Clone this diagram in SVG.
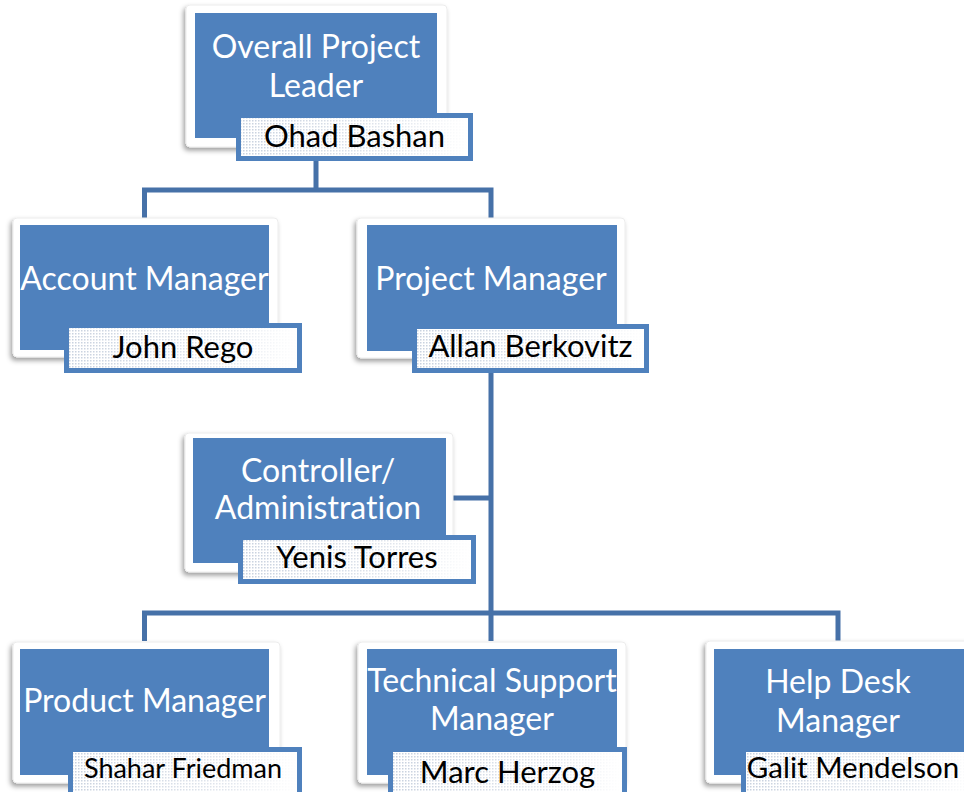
<svg xmlns="http://www.w3.org/2000/svg" width="964" height="792" viewBox="0 0 964 792">
  <style>
    .frame { fill: #ffffff; stroke: #ececec; stroke-width: 1; filter: url(#shadow); }
    .box { fill: #4f81bd; }
    .tag { fill: #ffffff; stroke: #4f81bd; stroke-width: 5; }
    .grain { fill: url(#dots); mask: url(#fade); }
    text { font-variant-ligatures: none; }
    .title { font-family: Lato, "Liberation Sans", Arial, sans-serif; font-size: 32px; fill: #ffffff; text-anchor: middle; }
    .name { font-family: Lato, "Liberation Sans", Arial, sans-serif; font-size: 31px; fill: #000000; text-anchor: middle; }
    .link { fill: none; stroke: #4671a8; stroke-width: 5; stroke-linejoin: miter; }
  </style>
  <defs>
    <filter id="shadow" x="-10%" y="-10%" width="120%" height="125%">
      <feDropShadow dx="-2" dy="3" stdDeviation="2.5" flood-color="#000000" flood-opacity="0.38"/>
    </filter>
    <pattern id="dots" width="3" height="3" patternUnits="userSpaceOnUse">
      <rect width="1.5" height="1.5" fill="#b6c2d4"/>
    </pattern>
    <linearGradient id="fadeGrad" x1="0" y1="0" x2="1" y2="0">
      <stop offset="0" stop-color="#ffffff" stop-opacity="0.75"/>
      <stop offset="0.7" stop-color="#ffffff" stop-opacity="0.4"/>
      <stop offset="1" stop-color="#ffffff" stop-opacity="0"/>
    </linearGradient>
    <mask id="fade" maskContentUnits="objectBoundingBox">
      <rect width="1" height="1" fill="url(#fadeGrad)"/>
    </mask>
  </defs>

  <rect width="964" height="792" fill="#ffffff"/>

  <!-- connectors -->
  <g id="connectors">
    <path class="link" d="M144.5,218 V190 H491 V218 M316,161 V190"/>
    <path class="link" d="M491,373 V641"/>
    <path class="link" d="M453,498 H491" stroke-width="4"/>
    <path class="link" d="M144.5,641 V613 H838 V641"/>
  </g>

  <g id="overall-project-leader">
    <rect class="frame" x="186" y="5" width="261" height="142" rx="4"/>
    <rect class="box" x="195" y="13" width="242" height="125"/>
    <rect class="tag" x="238.5" y="115.5" width="232" height="43"/>
    <rect class="grain" x="241" y="118" width="227" height="38"/>
    <text class="title" x="316" y="58">Overall Project</text>
    <text class="title" x="316" y="97">Leader</text>
    <text class="name" x="354.5" y="147">Ohad Bashan</text>
  </g>

  <g id="account-manager">
    <rect class="frame" x="13" y="218" width="265" height="139" rx="4"/>
    <rect class="box" x="20" y="225" width="249" height="125"/>
    <rect class="tag" x="66.5" y="325.5" width="233" height="45"/>
    <rect class="grain" x="69" y="328" width="228" height="40"/>
    <text class="title" x="144.5" y="290">Account Manager</text>
    <text class="name" x="183" y="358">John Rego</text>
  </g>

  <g id="project-manager">
    <rect class="frame" x="357" y="218" width="268" height="140" rx="4"/>
    <rect class="box" x="367" y="225" width="250" height="126"/>
    <rect class="tag" x="414.5" y="326.5" width="232" height="44"/>
    <rect class="grain" x="417" y="329" width="227" height="39"/>
    <text class="title" x="491" y="290">Project Manager</text>
    <text class="name" x="530.5" y="357">Allan Berkovitz</text>
  </g>

  <g id="controller-administration">
    <rect class="frame" x="185" y="433" width="268" height="139" rx="4"/>
    <rect class="box" x="193" y="438" width="253" height="125"/>
    <rect class="tag" x="240.5" y="537.5" width="233" height="44"/>
    <rect class="grain" x="243" y="540" width="228" height="39"/>
    <text class="title" x="318" y="482">Controller/</text>
    <text class="title" x="318" y="519">Administration</text>
    <text class="name" x="357" y="568">Yenis Torres</text>
  </g>

  <g id="product-manager">
    <rect class="frame" x="13" y="642" width="267" height="141" rx="4"/>
    <rect class="box" x="20" y="649" width="249" height="126"/>
    <rect class="tag" x="70.5" y="749.5" width="229" height="46"/>
    <rect class="grain" x="73" y="752" width="224" height="41"/>
    <text class="title" x="144.5" y="712">Product Manager</text>
    <text class="name" x="183" y="778" style="font-size:27px">Shahar Friedman</text>
  </g>

  <g id="technical-support-manager">
    <rect class="frame" x="358" y="642" width="268" height="141" rx="4"/>
    <rect class="box" x="367" y="649" width="250" height="126"/>
    <rect class="tag" x="390.5" y="749.5" width="234" height="46"/>
    <rect class="grain" x="393" y="752" width="229" height="41"/>
    <text class="title" x="492" y="692">Technical Support</text>
    <text class="title" x="492" y="730">Manager</text>
    <text class="name" x="507.5" y="783">Marc Herzog</text>
  </g>

  <g id="help-desk-manager">
    <rect class="frame" x="706" y="641" width="266" height="142" rx="4"/>
    <rect class="box" x="714" y="649" width="250" height="126"/>
    <rect class="tag" x="743.5" y="749.5" width="234" height="46"/>
    <rect class="grain" x="746" y="752" width="229" height="41"/>
    <text class="title" x="838" y="693">Help Desk</text>
    <text class="title" x="838" y="732">Manager</text>
    <text class="name" x="853" y="778" style="font-size:29.5px">Galit Mendelson</text>
  </g>
</svg>
